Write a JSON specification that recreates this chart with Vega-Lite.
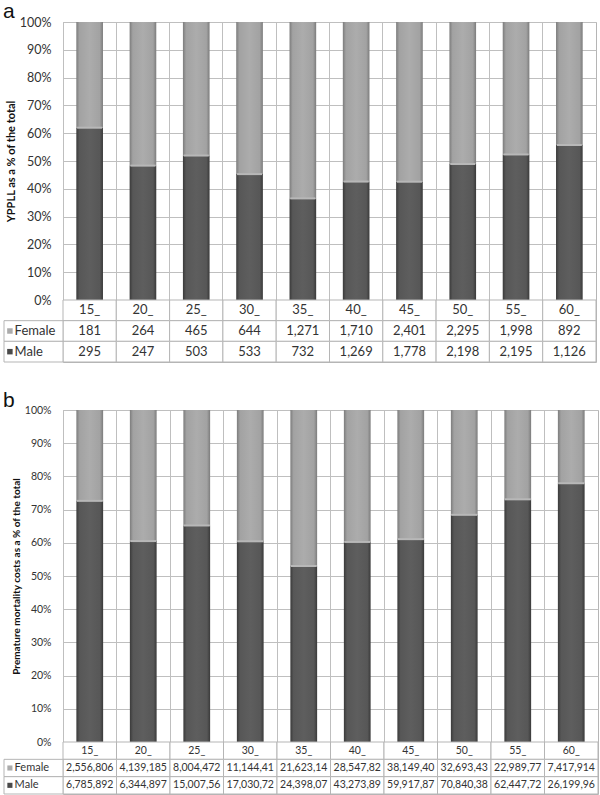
{
  "$schema": "https://vega.github.io/schema/vega-lite/v6.json",
  "padding": {"left": 3, "top": 0, "right": 0, "bottom": 0},
  "background": "white",
  "datasets": {
    "ypll": [
      {"age": "15_", "sex": "Female", "value": 181},
      {"age": "20_", "sex": "Female", "value": 264},
      {"age": "25_", "sex": "Female", "value": 465},
      {"age": "30_", "sex": "Female", "value": 644},
      {"age": "35_", "sex": "Female", "value": 1271},
      {"age": "40_", "sex": "Female", "value": 1710},
      {"age": "45_", "sex": "Female", "value": 2401},
      {"age": "50_", "sex": "Female", "value": 2295},
      {"age": "55_", "sex": "Female", "value": 1998},
      {"age": "60_", "sex": "Female", "value": 892},
      {"age": "15_", "sex": "Male", "value": 295},
      {"age": "20_", "sex": "Male", "value": 247},
      {"age": "25_", "sex": "Male", "value": 503},
      {"age": "30_", "sex": "Male", "value": 533},
      {"age": "35_", "sex": "Male", "value": 732},
      {"age": "40_", "sex": "Male", "value": 1269},
      {"age": "45_", "sex": "Male", "value": 1778},
      {"age": "50_", "sex": "Male", "value": 2198},
      {"age": "55_", "sex": "Male", "value": 2195},
      {"age": "60_", "sex": "Male", "value": 1126}
    ],
    "cost": [
      {"age": "15_", "sex": "Female", "value": 2556806, "label": "2,556,806"},
      {"age": "20_", "sex": "Female", "value": 4139185, "label": "4,139,185"},
      {"age": "25_", "sex": "Female", "value": 8004472, "label": "8,004,472"},
      {"age": "30_", "sex": "Female", "value": 11144410, "label": "11,144,41"},
      {"age": "35_", "sex": "Female", "value": 21623140, "label": "21,623,14"},
      {"age": "40_", "sex": "Female", "value": 28547820, "label": "28,547,82"},
      {"age": "45_", "sex": "Female", "value": 38149400, "label": "38,149,40"},
      {"age": "50_", "sex": "Female", "value": 32693430, "label": "32,693,43"},
      {"age": "55_", "sex": "Female", "value": 22989770, "label": "22,989,77"},
      {"age": "60_", "sex": "Female", "value": 7417914, "label": "7,417,914"},
      {"age": "15_", "sex": "Male", "value": 6785892, "label": "6,785,892"},
      {"age": "20_", "sex": "Male", "value": 6344897, "label": "6,344,897"},
      {"age": "25_", "sex": "Male", "value": 15007560, "label": "15,007,56"},
      {"age": "30_", "sex": "Male", "value": 17030720, "label": "17,030,72"},
      {"age": "35_", "sex": "Male", "value": 24398070, "label": "24,398,07"},
      {"age": "40_", "sex": "Male", "value": 43273890, "label": "43,273,89"},
      {"age": "45_", "sex": "Male", "value": 59917870, "label": "59,917,87"},
      {"age": "50_", "sex": "Male", "value": 70840380, "label": "70,840,38"},
      {"age": "55_", "sex": "Male", "value": 62447720, "label": "62,447,72"},
      {"age": "60_", "sex": "Male", "value": 26199960, "label": "26,199,96"}
    ],
    "rows": [
      {"row": "Female"},
      {"row": "Male"}
    ]
  },
  "spacing": 26,
  "vconcat": [
    {
      "title": {"text": "a", "anchor": "start", "fontSize": 21, "fontWeight": "normal", "font": "Liberation Sans", "color": "#111", "offset": -6},
      "spacing": 0,
      "bounds": "flush",
      "vconcat": [
        {
          "width": 533,
          "height": 278,
          "data": {"name": "ypll"},
          "transform": [
            {"stack": "value", "groupby": ["age"], "sort": [{"field": "sex", "order": "descending"}], "offset": "normalize", "as": ["v0", "v1"]}
          ],
          "encoding": {
            "x": {"field": "age", "type": "nominal", "sort": null, "scale": {"paddingInner": 0, "paddingOuter": 0},
                  "axis": {"labels": false, "ticks": false, "domain": false, "grid": true, "bandPosition": 0, "title": null, "gridColor": "#bfbfbf"}}
          },
          "layer": [
            {
              "transform": [{"filter": "datum.sex == 'Male'"}],
              "mark": {"type": "bar", "width": {"band": 0.5},
                       "color": {"gradient": "linear", "x1": 0, "x2": 1, "y1": 0, "y2": 0,
                                 "stops": [{"offset": 0, "color": "#3a3a3a"}, {"offset": 0.12, "color": "#575757"}, {"offset": 0.5, "color": "#5e5e5e"}, {"offset": 0.88, "color": "#575757"}, {"offset": 1, "color": "#3a3a3a"}]}},
              "encoding": {
                "y": {"field": "v0", "type": "quantitative", "scale": {"domain": [0, 1]},
                      "axis": {"tickCount": 10, "format": ".0%", "title": "YPPLL as a % of the total",
                               "titleFontWeight": "bold", "titleFontSize": 11, "titleFont": "Lato", "titleColor": "#111", "titlePadding": 3,
                               "domain": false, "ticks": false, "labelPadding": 12, "labelFontSize": 12.5, "labelColor": "#333", "gridColor": "#bfbfbf"}},
                "y2": {"field": "v1"}
              }
            },
            {
              "transform": [{"filter": "datum.sex == 'Female'"}],
              "mark": {"type": "bar", "width": {"band": 0.5},
                       "color": {"gradient": "linear", "x1": 0, "x2": 1, "y1": 0, "y2": 0,
                                 "stops": [{"offset": 0, "color": "#7c7c7c"}, {"offset": 0.12, "color": "#a2a2a2"}, {"offset": 0.5, "color": "#acacac"}, {"offset": 0.88, "color": "#a2a2a2"}, {"offset": 1, "color": "#7c7c7c"}]}},
              "encoding": {
                "y": {"field": "v0", "type": "quantitative"},
                "y2": {"field": "v1"}
              }
            },
            {
              "transform": [{"filter": "datum.sex == 'Male'"}],
              "mark": {"type": "tick", "color": "#b8b8b8", "thickness": 2, "opacity": 1},
              "encoding": {
                "y": {"field": "v1", "type": "quantitative"},
                "size": {"value": 25}
              }
            }
          ]
        },
        {
          "width": 533,
          "height": 62,
          "layer": [
            {
              "data": {"name": "ypll"},
              "encoding": {
                "x": {"field": "age", "type": "nominal", "sort": null, "axis": null, "scale": {"paddingInner": 0, "paddingOuter": 0}}
              },
              "layer": [
                {
                  "transform": [{"filter": "datum.sex == 'Female'"}],
                  "mark": {"type": "rect", "fill": "white", "stroke": "#b5b5b5", "strokeWidth": 1},
                  "encoding": {"y": {"datum": "cat", "type": "nominal", "axis": null, "scale": {"domain": ["cat", "Female", "Male"], "paddingInner": 0, "paddingOuter": 0}}}
                },
                {
                  "transform": [{"filter": "datum.sex == 'Female'"}],
                  "mark": {"type": "text", "fontSize": 13, "color": "#333"},
                  "encoding": {"y": {"datum": "cat", "type": "nominal"}, "text": {"field": "age"}}
                },
                {
                  "mark": {"type": "rect", "fill": "white", "stroke": "#b5b5b5", "strokeWidth": 1},
                  "encoding": {"y": {"field": "sex", "type": "nominal"}}
                },
                {
                  "mark": {"type": "text", "fontSize": 13, "color": "#333"},
                  "encoding": {"y": {"field": "sex", "type": "nominal"}, "text": {"field": "value", "format": ","}}
                }
              ]
            },
            {
              "data": {"name": "rows"},
              "layer": [
                {
                  "mark": {"type": "rect", "fill": "white", "stroke": "#b5b5b5", "strokeWidth": 1},
                  "encoding": {
                    "x": {"datum": "h", "type": "nominal", "axis": null, "scale": {"domain": ["h"], "range": [-59, 0], "paddingInner": 0, "paddingOuter": 0}},
                    "y": {"field": "row", "type": "nominal"}
                  }
                },
                {
                  "mark": {"type": "square", "size": 30, "filled": true, "opacity": 1},
                  "encoding": {
                    "x": {"datum": "h", "type": "nominal", "bandPosition": 0.1},
                    "y": {"field": "row", "type": "nominal"},
                    "color": {"field": "row", "type": "nominal", "scale": {"domain": ["Female", "Male"], "range": ["#ababab", "#4a4a4a"]}, "legend": null}
                  }
                },
                {
                  "mark": {"type": "text", "fontSize": 13, "color": "#333", "align": "left"},
                  "encoding": {
                    "x": {"datum": "h", "type": "nominal", "bandPosition": 0.18},
                    "y": {"field": "row", "type": "nominal"},
                    "text": {"field": "row"}
                  }
                }
              ]
            }
          ],
          "resolve": {"scale": {"x": "independent"}}
        }
      ]
    },
    {
      "title": {"text": "b", "anchor": "start", "fontSize": 21, "fontWeight": "normal", "font": "Liberation Sans", "color": "#111", "offset": -6},
      "spacing": 0,
      "bounds": "flush",
      "vconcat": [
        {
          "width": 535,
          "height": 332,
          "data": {"name": "cost"},
          "transform": [
            {"stack": "value", "groupby": ["age"], "sort": [{"field": "sex", "order": "descending"}], "offset": "normalize", "as": ["v0", "v1"]}
          ],
          "encoding": {
            "x": {"field": "age", "type": "nominal", "sort": null, "scale": {"paddingInner": 0, "paddingOuter": 0},
                  "axis": {"labels": false, "ticks": false, "domain": false, "grid": true, "bandPosition": 0, "title": null, "gridColor": "#bfbfbf"}}
          },
          "layer": [
            {
              "transform": [{"filter": "datum.sex == 'Male'"}],
              "mark": {"type": "bar", "width": {"band": 0.5},
                       "color": {"gradient": "linear", "x1": 0, "x2": 1, "y1": 0, "y2": 0,
                                 "stops": [{"offset": 0, "color": "#3a3a3a"}, {"offset": 0.12, "color": "#575757"}, {"offset": 0.5, "color": "#5e5e5e"}, {"offset": 0.88, "color": "#575757"}, {"offset": 1, "color": "#3a3a3a"}]}},
              "encoding": {
                "y": {"field": "v0", "type": "quantitative", "scale": {"domain": [0, 1]},
                      "axis": {"tickCount": 10, "format": ".0%", "title": "Premature mortality costs as a % of the total",
                               "titleFontWeight": "bold", "titleFontSize": 10, "titleFont": "Lato", "titleColor": "#111", "titlePadding": 3,
                               "domain": false, "ticks": false, "labelPadding": 12, "labelFontSize": 10.5, "labelColor": "#333", "gridColor": "#bfbfbf"}},
                "y2": {"field": "v1"}
              }
            },
            {
              "transform": [{"filter": "datum.sex == 'Female'"}],
              "mark": {"type": "bar", "width": {"band": 0.5},
                       "color": {"gradient": "linear", "x1": 0, "x2": 1, "y1": 0, "y2": 0,
                                 "stops": [{"offset": 0, "color": "#7c7c7c"}, {"offset": 0.12, "color": "#a2a2a2"}, {"offset": 0.5, "color": "#acacac"}, {"offset": 0.88, "color": "#a2a2a2"}, {"offset": 1, "color": "#7c7c7c"}]}},
              "encoding": {
                "y": {"field": "v0", "type": "quantitative"},
                "y2": {"field": "v1"}
              }
            },
            {
              "transform": [{"filter": "datum.sex == 'Male'"}],
              "mark": {"type": "tick", "color": "#b8b8b8", "thickness": 2, "opacity": 1},
              "encoding": {
                "y": {"field": "v1", "type": "quantitative"},
                "size": {"value": 26}
              }
            }
          ]
        },
        {
          "width": 535,
          "height": 52,
          "layer": [
            {
              "data": {"name": "cost"},
              "encoding": {
                "x": {"field": "age", "type": "nominal", "sort": null, "axis": null, "scale": {"paddingInner": 0, "paddingOuter": 0}}
              },
              "layer": [
                {
                  "transform": [{"filter": "datum.sex == 'Female'"}],
                  "mark": {"type": "rect", "fill": "white", "stroke": "#b5b5b5", "strokeWidth": 1},
                  "encoding": {"y": {"datum": "cat", "type": "nominal", "axis": null, "scale": {"domain": ["cat", "Female", "Male"], "paddingInner": 0, "paddingOuter": 0}}}
                },
                {
                  "transform": [{"filter": "datum.sex == 'Female'"}],
                  "mark": {"type": "text", "fontSize": 10.5, "color": "#333"},
                  "encoding": {"y": {"datum": "cat", "type": "nominal"}, "text": {"field": "age"}}
                },
                {
                  "mark": {"type": "rect", "fill": "white", "stroke": "#b5b5b5", "strokeWidth": 1},
                  "encoding": {"y": {"field": "sex", "type": "nominal"}}
                },
                {
                  "mark": {"type": "text", "fontSize": 10.5, "color": "#333"},
                  "encoding": {"y": {"field": "sex", "type": "nominal"}, "text": {"field": "label"}}
                }
              ]
            },
            {
              "data": {"name": "rows"},
              "layer": [
                {
                  "mark": {"type": "rect", "fill": "white", "stroke": "#b5b5b5", "strokeWidth": 1},
                  "encoding": {
                    "x": {"datum": "h", "type": "nominal", "axis": null, "scale": {"domain": ["h"], "range": [-59, 0], "paddingInner": 0, "paddingOuter": 0}},
                    "y": {"field": "row", "type": "nominal"}
                  }
                },
                {
                  "mark": {"type": "square", "size": 26, "filled": true, "opacity": 1},
                  "encoding": {
                    "x": {"datum": "h", "type": "nominal", "bandPosition": 0.1},
                    "y": {"field": "row", "type": "nominal"},
                    "color": {"field": "row", "type": "nominal", "legend": null}
                  }
                },
                {
                  "mark": {"type": "text", "fontSize": 11, "color": "#333", "align": "left"},
                  "encoding": {
                    "x": {"datum": "h", "type": "nominal", "bandPosition": 0.18},
                    "y": {"field": "row", "type": "nominal"},
                    "text": {"field": "row"}
                  }
                }
              ]
            }
          ],
          "resolve": {"scale": {"x": "independent"}}
        }
      ]
    }
  ],
  "config": {
    "font": "Lato",
    "view": {"stroke": "#b5b5b5"},
    "axis": {"labelFont": "Lato"}
  }
}
